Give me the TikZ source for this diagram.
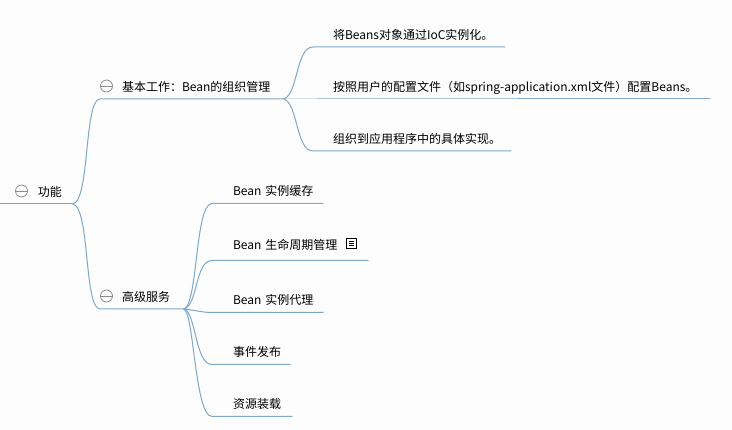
\documentclass[tikz,border=0pt]{standalone}
\usepackage{fontspec}
\setmainfont{Noto Sans CJK SC}
\definecolor{linkc}{HTML}{7FA8C6}
\definecolor{bgc}{HTML}{FDFDFD}
\definecolor{iconc}{HTML}{8C8C8C}
\tikzset{
  topic/.style={anchor=south west,inner sep=0pt,outer sep=0pt,align=left,text depth=7pt,font=\fontsize{12}{14}\selectfont,text=black},
  lowtopic/.style={topic,text depth=8pt},
  link/.style={draw=linkc,line width=1pt,line cap=round},
  collapse/.style={circle,draw=iconc,line width=0.8pt,minimum size=12pt,inner sep=0pt,outer sep=0pt},
  bar/.style={draw=iconc,line width=0.8pt},
}
\begin{document}
\begin{tikzpicture}[x=1pt,y=-1pt]
\path[fill=bgc] (0,0) rectangle (732,430);
\useasboundingbox (0,0) rectangle (732,430);
% topics: south-west corner = start of the underline
\node[topic,text width=73pt] (root) at (0,204) {\hspace*{38pt}功能};
\node[topic,text width=184pt] (basic) at (100,99) {\hspace*{22pt}基本工作：Bean的组织管理};
\node[topic,text width=84pt] (adv) at (100,309) {\hspace*{22pt}高级服务};
\node[topic,text width=192pt] (a1) at (313,47) {\hspace*{20pt}将Beans对象通过IoC实例化。};
\node[topic,text width=397pt] (a2) at (313,99) {\hspace*{20pt}按照用户的配置文件（如spring-application.xml文件）配置Beans。};
\node[topic,text width=198pt] (a3) at (313,151) {\hspace*{20pt}组织到应用程序中的具体实现。};
\node[lowtopic,text width=111pt] (b1) at (212,203.5) {\hspace*{21pt}Bean 实例缓存};
\node[lowtopic,text depth=11pt,text width=156pt] (b2) at (212,260.5) {\hspace*{21pt}Bean 生命周期管理};
\node[lowtopic,text width=111pt] (b3) at (212,312.5) {\hspace*{21pt}Bean 实例代理};
\node[lowtopic,text width=78pt] (b4) at (212,364.5) {\hspace*{21pt}事件发布};
\node[lowtopic,text width=80pt] (b5) at (212,416.5) {\hspace*{21pt}资源装载};
% connectors
\draw[link] (root.south west) -- (root.south east);
\draw[link] (root.south east) .. controls (90,200) and (84,99) .. (basic.south west) -- (basic.south east);
\draw[link] (root.south east) .. controls (90,208) and (84,309) .. (adv.south west) -- (adv.south east);
\draw[link] (basic.south east) .. controls (298,94) and (296,47) .. (a1.south west) -- (a1.south east);
\draw[link] (basic.south east) -- (a2.south west) -- (a2.south east);
\draw[link] (basic.south east) .. controls (298,104) and (296,151) .. (a3.south west) -- (a3.south east);
\draw[link] (adv.south east) .. controls (198,304) and (195,203.5) .. (b1.south west) -- (b1.south east);
\draw[link] (adv.south east) .. controls (198,305) and (195,260.5) .. (b2.south west) -- (b2.south east);
\draw[link] (adv.south east) .. controls (194,310) and (202,312.5) .. (b3.south west) -- (b3.south east);
\draw[link] (adv.south east) .. controls (196,312) and (195,364.5) .. (b4.south west) -- (b4.south east);
\draw[link] (adv.south east) .. controls (194,314) and (195,416.5) .. (b5.south west) -- (b5.south east);
% collapse markers
\node[collapse] (m0) at (21.5,191) {};
\draw[bar] (m0.west) -- (m0.east);
\node[collapse] (m1) at (106.5,86) {};
\draw[bar] (m1.west) -- (m1.east);
\node[collapse] (m2) at (106.5,296) {};
\draw[bar] (m2.west) -- (m2.east);
% note icon
\draw[black,line width=0.8pt] (346.5,238.5) rectangle (356,248);
\draw[black,line width=0.8pt] (348.5,241) -- (354,241) (348.5,243.2) -- (354,243.2) (348.5,245.4) -- (354,245.4);
\end{tikzpicture}
\end{document}
